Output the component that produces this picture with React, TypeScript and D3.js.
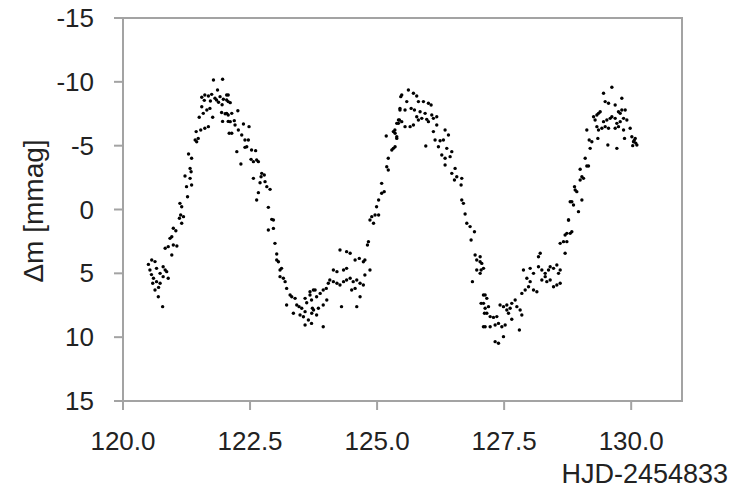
import React from "react";
import * as d3 from "d3";

// Photometric data: [HJD-2454833, Δm (mmag)]
const nightA: [number, number][] = [
  [120.565, 3.95], [120.63, 4.08], [120.53, 4.74], [120.66, 4.61], [120.73, 5.0], [120.79, 4.48],
  [120.86, 4.87], [120.89, 5.39], [120.6, 5.39], [120.66, 5.65], [120.73, 5.78], [120.63, 6.3],
  [120.695, 6.83], [120.78, 7.61], [120.585, 5.78], [120.79, 5.26], [120.83, 4.74], [120.5, 4.3],
  [120.7, 6.1], [120.56, 5.1],
  [120.83, 3.04], [120.89, 2.91], [120.99, 2.78], [121.06, 2.86], [120.96, 3.56],
  [120.99, 1.47], [121.04, 1.66], [120.96, 2.13], [120.925, 2.26],
  [121.12, -0.48], [121.155, -0.22], [121.135, 0.43], [121.19, 0.56], [121.11, 0.69], [121.155, 1.08],
  [121.29, -4.35], [121.35, -4.01], [121.32, -3.22], [121.34, -2.96], [121.22, -2.62], [121.32, -2.44],
  [121.25, -1.79], [121.35, -1.92], [121.27, -1.0],
  [121.44, -6.1], [121.42, -5.44], [121.48, -5.57], [121.45, -5.31],
  [121.55, -8.05], [121.65, -7.79], [121.71, -7.92], [121.58, -7.53], [121.5, -7.22], [121.765, -7.22],
  [121.68, -6.49], [121.61, -6.36], [121.53, -6.23],
  [121.78, -10.14], [121.96, -10.2], [121.86, -9.36],
  [121.55, -8.79], [121.61, -8.97], [121.68, -8.89], [121.745, -9.02], [121.81, -8.71], [121.84, -8.58],
  [121.91, -8.84], [121.975, -8.63], [122.04, -8.97], [122.07, -8.45], [121.88, -8.4], [121.72, -8.5],
  [121.95, -8.2], [121.6, -8.55],
  [121.94, -7.6], [122.01, -7.5], [122.07, -7.4], [121.96, -6.9], [122.07, -6.9], [122.09, -5.97],
];

const nightB: [number, number][] = [
  [122.07, -8.97], [122.04, -8.58], [122.11, -8.37],
  [122.04, -7.53], [122.14, -7.53], [122.26, -7.74],
  [122.11, -6.88], [122.19, -6.96], [122.205, -6.62], [122.14, -5.97], [122.27, -6.23], [122.336, -5.84],
  [122.37, -6.7], [122.48, -6.49],
  [122.4, -5.44], [122.467, -5.44], [122.435, -4.92], [122.4, -4.87], [122.53, -4.66], [122.61, -4.61],
  [122.24, -4.53], [122.32, -3.56],
  [122.52, -3.93], [122.566, -3.75], [122.664, -3.75], [122.63, -3.88],
  [122.73, -2.83], [122.78, -2.7], [122.717, -2.57], [122.566, -2.44], [122.697, -2.1], [122.795, -2.18],
  [122.83, -1.79], [122.894, -1.58], [122.664, -1.32], [122.63, -0.74],
  [122.86, -0.17], [122.927, 0.77], [122.96, 0.82], [122.86, 1.61], [122.96, 1.48], [122.99, 2.65],
  [123.025, 3.49], [123.025, 3.96], [123.058, 4.09], [123.12, 4.61], [123.09, 4.74], [123.09, 5.26],
  [123.156, 5.39], [123.19, 5.65], [123.22, 6.18], [123.288, 6.7], [123.22, 7.48], [123.32, 6.83],
  [123.386, 6.96], [123.419, 7.48], [123.465, 7.61], [123.583, 6.96], [123.615, 7.3], [123.68, 6.7],
  [123.747, 6.31], [123.517, 7.74], [123.583, 8.0], [123.727, 7.74], [123.55, 8.4], [123.353, 8.13],
  [123.484, 8.26], [123.583, 9.05], [123.648, 8.66], [123.714, 8.13],
];

const nightC: [number, number][] = [
  [123.68, 6.44], [123.78, 6.31], [123.71, 7.09], [123.81, 6.83], [123.88, 6.57], [123.94, 6.31],
  [124.0, 6.18], [124.04, 5.78], [124.07, 5.52], [124.14, 5.65], [124.21, 5.78], [124.27, 5.91],
  [124.34, 5.65], [124.4, 5.52], [124.47, 5.39], [124.53, 5.65], [124.6, 5.52], [124.665, 5.78],
  [124.73, 5.91], [124.5, 6.31], [124.567, 6.18], [124.01, 7.09], [123.94, 7.48], [123.845, 7.74],
  [123.75, 7.87], [123.81, 8.26], [123.71, 8.92], [123.94, 9.18], [124.3, 7.61], [124.6, 7.61],
  [124.665, 6.83], [124.76, 5.13], [124.86, 4.74], [124.567, 3.96], [124.65, 3.83], [124.73, 4.09],
  [124.76, 3.96], [124.14, 4.74], [124.21, 4.87], [124.34, 4.74], [124.4, 4.61], [124.27, 3.17],
  [124.4, 3.3], [124.47, 3.43], [124.83, 2.52], [124.81, 2.78],
  [124.86, 0.82], [124.93, 1.08], [124.895, 0.56], [124.96, 0.43], [125.03, 0.43], [124.99, -0.22],
  [125.03, -0.74], [125.09, -1.27], [125.14, -1.4], [125.09, -2.05], [125.19, -3.35], [125.22, -3.09],
  [125.22, -4.01], [125.29, -4.66], [125.32, -4.79], [125.387, -5.7], [125.32, -6.1], [125.35, -6.23],
  [125.18, -5.76], [125.42, -6.75], [125.44, -7.01], [125.45, -7.79], [125.466, -8.84],
];

const nightD: [number, number][] = [
  [125.616, -9.36], [125.485, -8.97], [125.715, -9.1], [125.78, -8.89], [125.584, -8.45], [125.45, -7.92],
  [125.55, -7.79], [125.67, -7.92], [125.813, -8.45], [125.912, -8.45], [126.01, -8.32], [126.063, -8.19],
  [125.735, -7.79], [125.846, -7.66], [125.945, -7.53], [126.076, -7.4], [126.174, -7.27], [125.78, -7.27],
  [125.879, -7.14], [125.977, -7.06], [126.108, -7.14], [125.42, -7.01], [125.485, -6.88], [125.387, -6.75],
  [125.55, -6.49], [125.65, -6.49], [125.715, -6.62], [125.813, -7.01], [126.01, -6.88], [125.354, -5.97],
  [125.387, -5.57], [125.354, -4.92], [126.174, -6.62], [126.108, -6.1], [126.338, -6.23], [126.404, -5.84],
  [126.141, -5.44], [126.24, -5.39], [126.305, -5.44], [125.958, -4.97], [126.207, -4.92], [126.371, -4.79],
  [126.47, -4.53], [126.273, -4.27], [126.338, -4.01], [126.437, -4.14], [126.338, -3.49], [126.535, -3.22],
  [126.47, -2.83], [126.568, -2.57], [126.666, -2.44], [126.522, -2.31], [126.653, -1.92], [126.666, -0.74],
  [126.699, -0.48], [126.732, 0.35], [126.765, 1.08], [126.83, 1.34], [126.916, 1.74], [126.85, 2.39],
  [126.929, 3.56], [126.961, 3.96], [127.027, 4.09], [126.961, 4.74], [127.047, 4.74], [126.876, 5.65],
  [127.093, 6.7], [127.047, 7.35], [127.113, 8.13], [127.093, 9.18],
];

const nightE: [number, number][] = [
  [127.028, 3.7], [127.06, 4.22], [127.094, 4.61], [127.028, 5.0],
  [127.126, 6.7], [127.159, 6.96], [127.094, 7.35], [127.126, 7.74], [127.192, 7.61], [127.159, 8.13],
  [127.225, 8.39], [127.29, 8.45], [127.356, 8.39], [127.126, 9.18], [127.225, 9.18], [127.323, 9.05],
  [127.389, 8.92], [127.455, 9.18], [127.52, 9.05], [127.323, 10.35], [127.389, 10.48], [127.487, 9.96],
  [127.42, 7.48], [127.487, 7.61], [127.553, 7.48], [127.618, 7.74], [127.65, 7.35], [127.717, 7.09],
  [127.75, 7.61], [127.815, 7.87], [127.848, 8.26], [127.65, 8.6], [127.8, 9.44], [127.586, 8.13],
  [127.553, 7.87],
  [127.848, 6.57], [127.914, 6.31], [127.98, 6.05], [128.078, 6.31], [128.144, 6.44], [128.012, 5.65],
  [127.947, 5.39], [127.88, 4.74], [128.012, 4.61], [128.078, 5.0], [128.176, 4.48], [128.242, 4.74],
  [128.308, 5.0], [128.373, 4.74], [128.406, 4.48], [128.472, 4.61], [128.537, 4.35], [128.603, 4.74],
  [128.57, 5.0], [128.406, 5.52], [128.472, 6.05], [128.537, 5.91], [128.603, 5.78], [128.34, 5.65],
  [128.308, 5.26], [128.242, 5.52], [128.176, 3.7], [128.21, 3.43], [128.603, 2.65], [128.668, 2.52],
  [128.7, 2.0], [128.734, 1.87], [128.767, 0.82], [128.8, -0.61],
];

const nightF: [number, number][] = [
  [128.7, 3.43], [128.734, 2.52], [128.8, 1.87], [128.832, 1.74], [128.767, 0.82], [128.963, 0.17],
  [129.03, -0.74], [128.832, -0.61], [128.865, -0.35], [128.898, -1.53], [128.93, -1.4], [128.885, -1.79],
  [128.996, -2.31], [129.062, -2.44], [129.03, -2.57], [128.996, -3.15], [129.127, -3.41], [129.095, -4.01],
  [129.16, -3.41], [129.193, -4.79], [129.226, -5.31], [129.174, -5.44], [129.127, -6.23], [129.26, -7.27],
  [129.325, -7.4], [129.357, -7.53], [129.39, -7.66], [129.29, -7.01], [129.325, -6.49], [129.423, -6.36],
  [129.488, -6.49], [129.554, -6.36], [129.357, -6.23], [129.456, -6.88], [129.521, -7.01], [129.587, -7.14],
  [129.62, -7.27], [129.685, -7.14], [129.718, -6.75], [129.75, -6.49], [129.685, -6.36], [129.784, -6.88],
  [129.85, -7.14], [129.915, -7.01], [129.882, -7.79], [129.784, -7.53], [129.98, -6.36], [129.85, -6.23],
  [129.869, -5.57], [130.013, -5.7], [130.079, -5.57], [130.112, -5.05], [130.046, -5.31], [129.541, -5.05],
  [129.718, -4.79], [129.344, -5.57], [129.456, -9.1], [129.62, -9.57], [129.816, -8.71], [129.488, -8.45],
  [129.554, -8.32], [129.685, -8.19], [129.75, -7.66], [129.816, -7.79], [130.06, -5.4], [130.09, -5.2],
  [130.03, -5.0],
];

const allPoints = [...nightA, ...nightB, ...nightC, ...nightD, ...nightE, ...nightF];

const xTicks = [120, 122.5, 125, 127.5, 130];
const yTicks = [-15, -10, -5, 0, 5, 10, 15];
const xDomain: [number, number] = [120, 131];
const yDomain: [number, number] = [-15, 15];
const xTitle = "HJD-2454833";
const yTitle = "Δm [mmag]";

export default function App() {
  const left = 123, right = 682, top = 18, bottom = 401;
  const x = d3.scaleLinear().domain(xDomain).range([left, right]);
  const y = d3.scaleLinear().domain(yDomain).range([top, bottom]);
  const axisColor = "#a3a3a3";
  const textColor = "#222";
  const font = "'Liberation Sans', Arial, sans-serif";
  const fmt = d3.format(".1f");

  return (
    <svg
      width={734}
      height={489}
      style={{ position: "absolute", left: 0, top: 0, background: "#fff" }}
      fontFamily={font}
    >
      <rect x={0} y={0} width={734} height={489} fill="#fff" />
      {/* frame */}
      <rect x={left} y={top} width={right - left} height={bottom - top} fill="none" stroke={axisColor} strokeWidth={2} />
      {/* y ticks */}
      {yTicks.map((t) => (
        <g key={"y" + t}>
          <line x1={left - 9} x2={left} y1={y(t)} y2={y(t)} stroke={axisColor} strokeWidth={2} />
          <text x={94} y={y(t)} dy="0.35em" textAnchor="end" fontSize={26} fill={textColor}>
            {t}
          </text>
        </g>
      ))}
      {/* x ticks */}
      {xTicks.map((t) => (
        <g key={"x" + t}>
          <line x1={x(t)} x2={x(t)} y1={bottom} y2={bottom + 9} stroke={axisColor} strokeWidth={2} />
          <text x={x(t)} y={450} textAnchor="middle" fontSize={26} fill={textColor}>
            {fmt(t)}
          </text>
        </g>
      ))}
      <text x={728} y={483} textAnchor="end" fontSize={27} fill={textColor}>
        {xTitle}
      </text>
      <text
        transform={`translate(43, ${211}) rotate(-90)`}
        textAnchor="middle"
        fontSize={28}
        fill={textColor}
      >
        {yTitle}
      </text>
      {/* points */}
      {allPoints.map((p, i) => (
        <circle key={i} cx={x(p[0])} cy={y(p[1])} r={1.7} fill="#000" />
      ))}
    </svg>
  );
}
